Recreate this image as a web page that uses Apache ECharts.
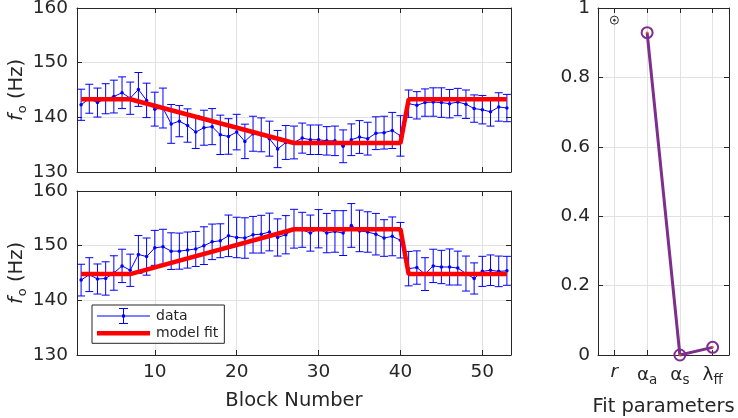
<!DOCTYPE html>
<html><head><meta charset="utf-8">
<script src="https://cdn.jsdelivr.net/npm/echarts@6/dist/echarts.min.js"></script>
<style>html,body{margin:0;padding:0;background:#fff}#c{width:738px;height:418px}</style>
</head><body><div id="c"></div><script>
// ---- data ----
const blocks = [1,2,3,4,5,6,7,8,9,10,11,12,13,14,15,16,17,18,19,20,21,22,23,24,25,26,27,28,29,30,31,32,33,34,35,36,37,38,39,40,41,42,43,44,45,46,47,48,49,50,51,52,53];
const topMean = [142.3,143.4,142.7,143.4,143.8,144.5,143.5,145.1,143.1,141.5,
  141.7,138.8,139.3,138.5,137.3,138.1,138.3,136.8,136.5,137.3,
  135.6,137.0,136.8,136.1,134.2,135.4,135.4,136.2,135.9,135.9,
  135.7,135.7,134.7,135.9,136.4,136.1,137.1,137.2,137.6,136.6,
  142.5,142.2,142.7,142.8,142.7,142.5,142.8,142.4,141.6,141.4,
  141.0,141.9,141.7];
const topErr = [2.85,2.65,2.65,2.75,3.0,2.9,2.95,3.1,3.15,3.1,
  3.65,3.55,2.85,3.05,3.0,3.2,3.3,3.6,3.25,3.25,
  3.15,3.2,3.1,3.2,3.4,3.1,3.0,2.75,2.7,2.7,
  2.6,2.7,3.0,2.9,3.0,3.0,3.0,3.0,3.3,3.7,
  2.5,2.5,2.5,2.6,2.7,2.6,2.5,2.6,2.5,2.6,
  2.6,2.6,2.5];
const bottomMean = [143.7,144.7,143.9,144.0,145.0,146.3,145.5,148.4,148.0,149.6,
  149.8,149.0,149.0,149.2,149.4,150.0,150.7,150.9,151.8,151.5,
  151.4,152.0,152.1,152.5,151.5,152.0,153.1,152.9,152.3,153.1,
  152.3,152.6,152.3,153.7,152.7,152.5,152.1,151.4,151.7,151.0,
  145.8,146.0,144.8,146.3,146.1,146.1,145.9,144.9,144.0,145.3,
  145.5,145.3,145.4];
const bottomErr = [2.9,3.1,2.75,3.05,3.15,3.05,2.95,3.45,3.4,3.2,
  3.2,3.35,3.3,3.3,3.2,3.45,3.25,3.1,3.8,3.7,
  3.7,3.35,3.45,3.45,3.4,3.5,3.55,3.2,3.3,3.5,
  3.6,3.8,4.1,4.0,3.8,3.7,3.8,3.35,3.55,3.25,
  3.15,3.05,3.0,3.05,3.05,3.3,3.1,3.2,2.85,2.75,
  2.8,2.8,2.65];
const fitX = [1,7,27,40,41,53];
const topFitY = [143.3,143.3,135.3,135.3,143.3,143.3];
const bottomFitY = [144.8,144.8,153.0,153.0,144.8,144.8];
const xTicks = [10,20,30,40,50];
const fTicksMin = 130, fTicksMax = 160, fTickStep = 10;
const paramPos = [1,2,3,4];
const paramSymbols = ['r','α','α','λ'];
const paramSubs = ['','a','s','ff'];
const paramValues = [0.965, 0.929, 0.0, 0.022];

// ---- styling ----
const FONT = 'DejaVu Sans';
const AX = '#262626';
const GRIDC = '#e2e2e2';
const BLUE = '#0000ff';
const RED = '#ff0000';
const PURPLE = '#7E2F8E';
const TICKFS = 18.5, LABFS = 19.5;

function axisBase(extra) {
  return Object.assign({
    axisLine: {show: true, onZero: false, lineStyle: {color: AX, width: 1}},
    axisTick: {show: true, inside: true, length: 5, lineStyle: {color: AX}},
    axisLabel: {show: true, color: AX, fontSize: TICKFS, fontFamily: FONT},
    splitLine: {show: true, lineStyle: {color: GRIDC, width: 1}}
  }, extra);
}
function mirror(ax) {
  const m = JSON.parse(JSON.stringify(ax));
  m.axisLabel.show = false;
  m.splitLine.show = false;
  delete m.name;
  return m;
}

const grids = [
  {left: 77, top: 8, width: 434, height: 164, outerBoundsMode: 'none', containLabel: false},
  {left: 77, top: 191, width: 434, height: 164, outerBoundsMode: 'none', containLabel: false},
  {left: 598, top: 8, width: 131, height: 347, outerBoundsMode: 'none', containLabel: false}
];

const xBlock = (gi, showLabels) => axisBase({
  type: 'value', gridIndex: gi, min: 0.5, max: 53.5, position: 'bottom',
  axisTick: {show: true, inside: true, length: 5, lineStyle: {color: AX}, customValues: xTicks},
  axisLabel: {show: showLabels, color: AX, fontSize: TICKFS, fontFamily: FONT, margin: 8, customValues: xTicks}
});
const yF = (gi) => axisBase({
  type: 'value', gridIndex: gi, min: fTicksMin, max: fTicksMax, interval: fTickStep, position: 'left',
  axisLabel: {show: true, color: AX, fontSize: TICKFS, fontFamily: FONT, margin: 9},
  name: '{f|f}{s|o}{n| (Hz)}', nameLocation: 'middle', nameGap: 48, nameRotate: 90, nameMoveOverlap: false,
  nameTextStyle: {color: AX, fontFamily: FONT, fontSize: LABFS,
    rich: {f: {fontStyle: 'italic', fontSize: LABFS, fontFamily: FONT, color: AX},
           s: {fontSize: 13, fontFamily: FONT, color: AX, padding: [11, 0, 0, 1]},
           n: {fontSize: LABFS, fontFamily: FONT, color: AX}}}
});

const x0 = xBlock(0, false);
const x1 = Object.assign(xBlock(1, true), {name: 'Block Number', nameLocation: 'middle', nameGap: 36,
  nameTextStyle: {color: AX, fontSize: LABFS, fontFamily: FONT}});
const x2 = axisBase({
  type: 'value', gridIndex: 2, min: 0.5, max: 4.5, position: 'bottom',
  axisTick: {show: true, inside: true, length: 5, lineStyle: {color: AX}, customValues: paramPos},
  axisLabel: {show: true, color: AX, fontSize: TICKFS, fontFamily: FONT, margin: 8, customValues: paramPos,
    formatter: (v) => {
      const i = paramPos.indexOf(v);
      if (i < 0) return '';
      if (!paramSubs[i]) return '{i|' + paramSymbols[i] + '}';
      return '{g|' + paramSymbols[i] + '}{s|' + paramSubs[i] + '}';
    },
    rich: {
      i: {fontStyle: 'italic', fontSize: TICKFS, fontFamily: FONT, color: AX},
      g: {fontSize: TICKFS, fontFamily: FONT, color: AX},
      s: {fontSize: 13.5, fontFamily: FONT, color: AX, padding: [10, 0, 0, 0]}
    }},
  name: 'Fit parameters', nameLocation: 'middle', nameGap: 42,
  nameTextStyle: {color: AX, fontSize: LABFS, fontFamily: FONT}
});
const y2 = axisBase({type: 'value', gridIndex: 2, min: 0, max: 1, interval: 0.2, position: 'left',
  axisLabel: {show: true, color: AX, fontSize: TICKFS, fontFamily: FONT, margin: 8}});

const xTop0 = Object.assign(mirror(x0), {position: 'top'});
const xTop1 = Object.assign(mirror(x1), {position: 'top'});
const xTop2 = Object.assign(mirror(x2), {position: 'top'});
xTop2.axisLabel.formatter = undefined;
const yR0 = Object.assign(mirror(yF(0)), {position: 'right'});
const yR1 = Object.assign(mirror(yF(1)), {position: 'right'});
const yR2 = Object.assign(mirror(y2), {position: 'right'});

function errSeries(xi, mean, err) {
  return {
    type: 'custom', name: 'err' + xi, xAxisIndex: xi, yAxisIndex: xi, z: 3,
    data: blocks.map((b, i) => [b, mean[i] - err[i], mean[i] + err[i]]),
    encode: {x: 0, y: [1, 2]},
    renderItem: (params, api) => {
      const x = api.value(0);
      const lo = api.coord([x, api.value(1)]);
      const hi = api.coord([x, api.value(2)]);
      const hw = 4;
      const st = {stroke: BLUE, lineWidth: 1, fill: null};
      return {type: 'group', children: [
        {type: 'line', shape: {x1: lo[0], y1: lo[1], x2: hi[0], y2: hi[1]}, style: st},
        {type: 'line', shape: {x1: lo[0] - hw, y1: lo[1], x2: lo[0] + hw, y2: lo[1]}, style: st},
        {type: 'line', shape: {x1: hi[0] - hw, y1: hi[1], x2: hi[0] + hw, y2: hi[1]}, style: st}
      ]};
    }
  };
}
function dataSeries(xi, mean) {
  return {
    type: 'line', name: 'data', xAxisIndex: xi, yAxisIndex: xi, z: 4,
    data: blocks.map((b, i) => [b, mean[i]]),
    symbol: 'circle', symbolSize: 3.5, showSymbol: true,
    itemStyle: {color: BLUE}, lineStyle: {color: BLUE, width: 1}, animation: false
  };
}
function fitSeries(xi, fy) {
  return {
    type: 'line', name: 'model fit', xAxisIndex: xi, yAxisIndex: xi, z: 5,
    data: fitX.map((x, i) => [x, fy[i]]),
    symbol: 'none', itemStyle: {color: RED}, lineStyle: {color: RED, width: 4.5}, animation: false
  };
}

const purpleData = paramPos.slice(1).map((p, k) => [p, paramValues[k + 1]]);
const option = {
  animation: false,
  backgroundColor: '#fff',
  textStyle: {fontFamily: FONT},
  grid: grids,
  xAxis: [x0, x1, x2, xTop0, xTop1, xTop2],
  yAxis: [yF(0), yF(1), y2, yR0, yR1, yR2],
  legend: {
    left: 92, top: 305, orient: 'vertical', selectedMode: false,
    backgroundColor: '#fff', borderColor: AX, borderWidth: 1, borderRadius: 0,
    padding: [3, 6, 3, 5], itemGap: 2.3, itemWidth: 53, itemHeight: 16,
    textStyle: {fontSize: 14, fontFamily: FONT, color: AX, padding: [0, 0, 0, 1]},
    symbolKeepAspect: true,
    data: [
      {name: 'data', icon: 'path://M0 7.5H53V8.5H0Z M26 0H27V16H26Z M22 0H31V1H22Z M22 15H31V16H22Z M25 6.5H28V9.5H25Z',
        itemStyle: {color: BLUE, borderWidth: 0}},
      {name: 'model fit', icon: 'path://M0 0H53V4.5H0Z', itemStyle: {color: RED, borderWidth: 0}}
    ]
  },
  series: [
    errSeries(0, topMean, topErr), dataSeries(0, topMean), fitSeries(0, topFitY),
    errSeries(1, bottomMean, bottomErr), dataSeries(1, bottomMean), fitSeries(1, bottomFitY),
    {type: 'line', name: 'params', xAxisIndex: 2, yAxisIndex: 2, data: purpleData, clip: false, z: 4,
      symbol: 'circle', symbolSize: 11, showSymbol: true,
      lineStyle: {color: PURPLE, width: 3},
      itemStyle: {color: 'rgba(255,255,255,0)', borderColor: PURPLE, borderWidth: 2}},
    {type: 'scatter', name: 'paramsDot', xAxisIndex: 2, yAxisIndex: 2, data: purpleData, clip: false, z: 5,
      symbol: 'circle', symbolSize: 2.5, itemStyle: {color: '#D95319'}},
    {type: 'scatter', name: 'r', xAxisIndex: 2, yAxisIndex: 2, clip: false, z: 4,
      data: [[paramPos[0], paramValues[0]]],
      symbol: 'circle', symbolSize: 8,
      itemStyle: {color: 'rgba(255,255,255,0)', borderColor: '#000', borderWidth: 1}},
    {type: 'scatter', name: 'rDot', xAxisIndex: 2, yAxisIndex: 2, clip: false, z: 5,
      data: [[paramPos[0], paramValues[0]]],
      symbol: 'circle', symbolSize: 2.5, itemStyle: {color: '#000'}}
  ]
};
const chart = echarts.init(document.getElementById('c'), null, {renderer: 'canvas'});
chart.setOption(option);
</script></body></html>
